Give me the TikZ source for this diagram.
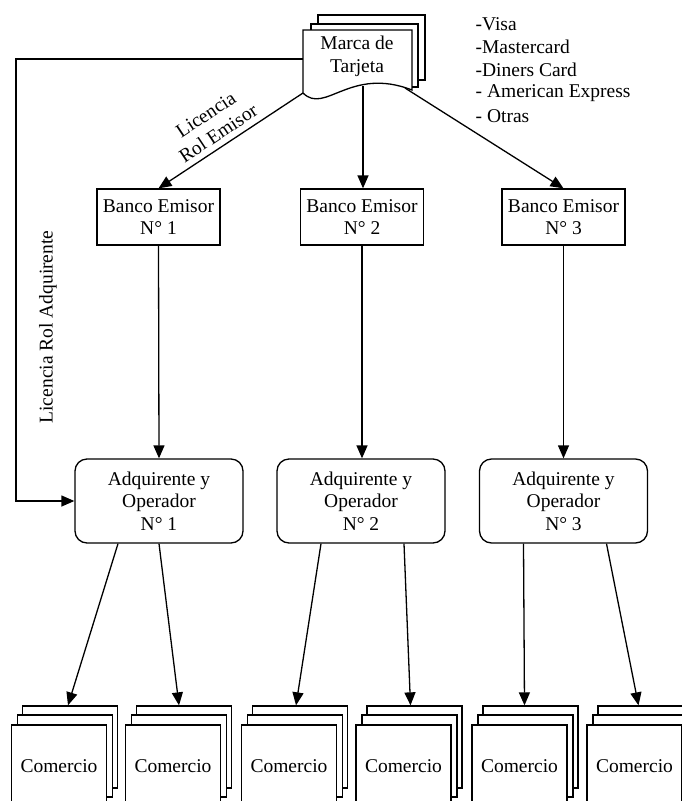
\documentclass[tikz,border=0pt]{standalone}
\usepackage{fontspec}
\setmainfont{Liberation Serif}
\usetikzlibrary{arrows.meta,calc}
\begin{document}
\begin{tikzpicture}[x=1pt,y=-1pt, line width=1.3pt,
  every node/.style={font=\fontsize{19.5}{22.5}\selectfont, align=center, inner sep=0pt},
  arr/.style={-{Triangle[length=13pt,width=11pt]}},
  bancobox/.style={draw, minimum width=123pt, minimum height=56pt},
  adqbox/.style={draw, rounded corners=12pt, minimum width=168pt, minimum height=84pt},
  combox/.style={draw, fill=white, minimum width=95pt, minimum height=82pt},
  listtxt/.style={anchor=west, align=left}
]
\clip (0,0) rectangle (682,801);

% Marca de Tarjeta (multi-document)
\draw (318,24) -- (318,15) -- (425,15) -- (425,80) -- (418,80);
\draw (311,30) -- (311,24) -- (418,24) -- (418,87) -- (412,87);
\draw (303,93) -- (303,30) -- (412,30) -- (412,90) .. controls (350,66) and (325,115) .. (303,93);
\node (marca) at (357,56.5) {Marca de\\Tarjeta};
\coordinate (mL) at (303,93);
\coordinate (mM) at (363,86);
\coordinate (mR) at (405,88);
\coordinate (mT) at (303,59);
\coordinate (k1) at (16,300);

% brand list
\node[listtxt] (l1) at (475,24) {-Visa};
\node[listtxt] (l2) at (475,47) {-Mastercard};
\node[listtxt] (l3) at (475,70) {-Diners Card};
\node[listtxt] (l4) at (475,93) {- American Express};
\node[listtxt] (l5) at (475,116) {- Otras};

% Bancos
\node[bancobox] (ban1) at (158.5,217) {Banco Emisor\\N° 1};
\node[bancobox] (ban2) at (362,217) {Banco Emisor\\N° 2};
\node[bancobox] (ban3) at (563.5,217) {Banco Emisor\\N° 3};

% Adquirentes
\node[adqbox] (adq1) at (159,501) {Adquirente y\\Operador\\N° 1};
\node[adqbox] (adq2) at (361,501) {Adquirente y\\Operador\\N° 2};
\node[adqbox] (adq3) at (563.5,501) {Adquirente y\\Operador\\N° 3};

% Comercios
\foreach \i/\x in {1/59,2/173,3/289,4/403.5,5/519.5,6/634.5} {
  \node[combox] (cb\i) at (\x+11,747) {};
  \node[combox] (cm\i) at (\x+6,756) {};
  \node[combox] (c\i) at (\x,766) {Comercio};
}

% connectors
\draw[arr] (mL) -- (ban1.north);
\draw[arr] (mM) -- (mM |- ban2.north);
\draw[arr] (mR) -- (ban3.north);
\draw[arr] (mT) -| (k1) |- (adq1.west);

\draw[arr] (ban1.south) -- (adq1.north);
\draw[arr] (ban2.south) -- (ban2.south |- adq2.north);
\draw[arr] (ban3.south) -- (adq3.north);

\draw[arr] ($(adq1.south)+(-41,0)$) -- ($(cb1.north)+(-2,0)$);
\draw[arr] (adq1.south) -- ($(cb2.north)+(-5,0)$);
\draw[arr] ($(adq2.south)+(-40,0)$) -- ($(cb3.north)+(-4,0)$);
\draw[arr] ($(adq2.south)+(43,0)$) -- ($(cb4.north)+(-4,0)$);
\draw[arr] ($(adq3.south)+(-40,0)$) -- ($(cb5.north)+(-6,0)$);
\draw[arr] ($(adq3.south)+(43,0)$) -- ($(cb6.north)+(-7,0)$);

% labels
\node[rotate=33.6] (lre) at (212,124) {Licencia\\Rol Emisor};
\node[rotate=90] (lra) at (48,327) {Licencia Rol Adquirente};
\end{tikzpicture}
\end{document}
